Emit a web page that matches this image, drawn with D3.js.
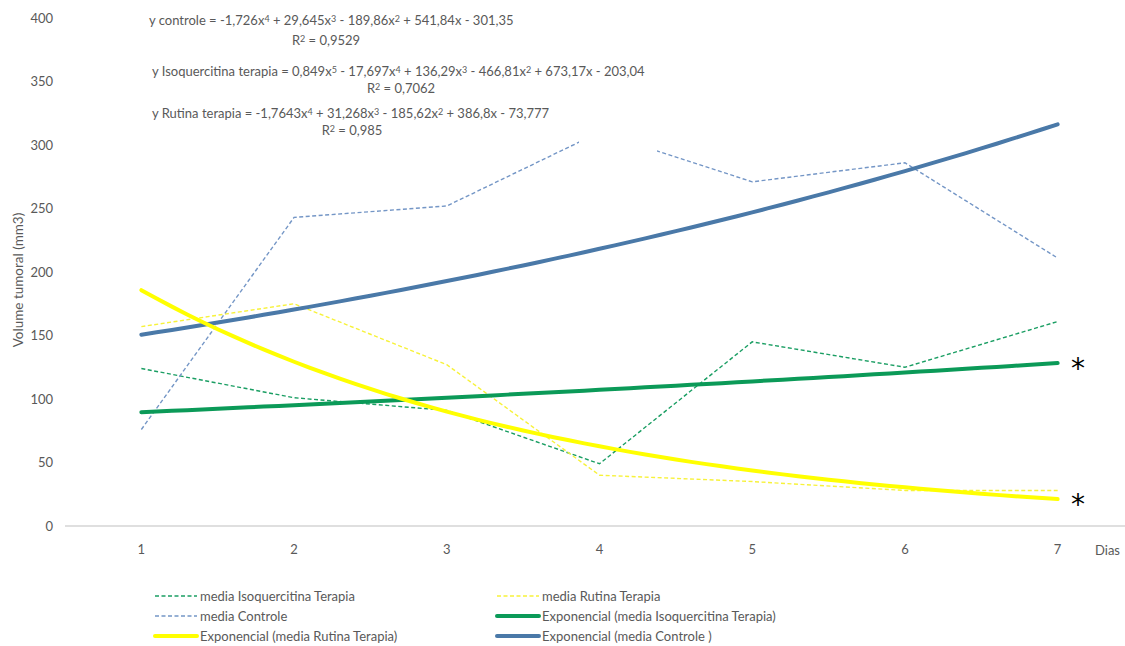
<!DOCTYPE html>
<html>
<head>
<meta charset="utf-8">
<script src="https://cdn.jsdelivr.net/npm/d3@7/dist/d3.min.js"></script>
<style>
  html, body { margin: 0; padding: 0; background: #fff; }
  svg { display: block; font-family: Lato, "Open Sans", sans-serif; }
</style>
</head>
<body>
<svg id="chart" width="1125" height="646"></svg>
<script>
// Tumour volume (mm3) per day, group means
const days = [1, 2, 3, 4, 5, 6, 7];
const mediaIsoquercitina = [124, 101, 91, 49, 145, 125, 161];
const mediaRutina = [157, 175, 127, 40, 35, 28, 28];
const mediaControle = [76, 243, 252, 310, 271, 286, 211];
const yTicks = [0, 50, 100, 150, 200, 250, 300, 350, 400];

// Polynomial trendline labels; "^n" marks a superscript exponent
const equations = [
  { text: "y controle = -1,726x^4 + 29,645x^3 - 189,86x^2 + 541,84x - 301,35", r2: "R^2 = 0,9529" },
  { text: "y Isoquercitina terapia = 0,849x^5 - 17,697x^4 + 136,29x^3 - 466,81x^2 + 673,17x - 203,04", r2: "R^2 = 0,7062" },
  { text: "y Rutina terapia = -1,7643x^4 + 31,268x^3 - 185,62x^2 + 386,8x - 73,777", r2: "R^2 = 0,985" }
];

const colors = {
  isoDash: "#1a9e63", rutDash: "#f7f23a", ctrlDash: "#7496c6",
  isoExp: "#0b9a58", rutExp: "#ffff00", ctrlExp: "#4a79a8"
};

const svg = d3.select("#chart");
const textColor = "#595959";

const x = d3.scaleBand().domain(days).range([65, 1134]);
const xc = d => x(d) + x.bandwidth() / 2;
const xLin = d3.scaleLinear().domain([1, 7]).range([xc(1), xc(7)]);
const y = d3.scaleLinear().domain([0, 400]).range([526, 18]);

// Y tick labels (no gridlines)
svg.append("g").selectAll("text").data(yTicks).join("text")
  .attr("x", 53).attr("y", d => y(d)).attr("dy", "0.35em")
  .attr("text-anchor", "end").attr("fill", textColor).attr("font-size", 13)
  .text(d => d);

// Category axis line
svg.append("line").attr("x1", 65).attr("x2", 1134).attr("y1", y(0)).attr("y2", y(0))
  .attr("stroke", "#bfbfbf").attr("stroke-width", 1);

svg.append("g").selectAll("text").data(days).join("text")
  .attr("x", d => xc(d)).attr("y", 549).attr("dy", "0.35em")
  .attr("text-anchor", "middle").attr("fill", textColor).attr("font-size", 13)
  .text(d => d);

svg.append("text").attr("x", 1095).attr("y", 550).attr("dy", "0.35em")
  .attr("fill", textColor).attr("font-size", 13).text("Dias");

svg.append("text")
  .attr("transform", "translate(18,280) rotate(-90)")
  .attr("text-anchor", "middle").attr("dy", "0.35em")
  .attr("fill", textColor).attr("font-size", 13.5).text("Volume tumoral (mm3)");

// Dashed series of group means
const line = d3.line().x((d, i) => xc(days[i])).y(d => y(d));
function dashed(data, color) {
  svg.append("path").datum(data).attr("d", line)
    .attr("fill", "none").attr("stroke", color).attr("stroke-width", 1.4)
    .attr("stroke-dasharray", "4,2.5");
}
dashed(mediaIsoquercitina, colors.isoDash);
dashed(mediaRutina, colors.rutDash);
dashed(mediaControle, colors.ctrlDash);

// Exponential trend: least squares on ln(y)
function expFit(vals) {
  const n = vals.length;
  const lx = days, ly = vals.map(Math.log);
  const mx = d3.mean(lx), my = d3.mean(ly);
  let sxy = 0, sxx = 0;
  for (let i = 0; i < n; i++) { sxy += (lx[i] - mx) * (ly[i] - my); sxx += (lx[i] - mx) ** 2; }
  const b = sxy / sxx, a = Math.exp(my - b * mx);
  return t => a * Math.exp(b * t);
}
const samples = d3.range(0, 61).map(i => 1 + i * 0.1);
const curve = d3.line().x(t => xLin(t));
function trend(vals, color) {
  const f = expFit(vals);
  svg.append("path").datum(samples)
    .attr("d", curve.y(t => y(f(t))))
    .attr("fill", "none").attr("stroke", color).attr("stroke-width", 4)
    .attr("stroke-linecap", "round");
}
trend(mediaControle, colors.ctrlExp);
trend(mediaIsoquercitina, colors.isoExp);
trend(mediaRutina, colors.rutExp);

// Trendline label boxes (white fill)
svg.append("rect").attr("x", 579).attr("y", 96).attr("width", 78).attr("height", 60).attr("fill", "#fff");

// Writes text with ^n exponents as raised tspans
function richText(sel, str) {
  const parts = str.split(/\^(\d)/);
  parts.forEach((p, i) => {
    if (i % 2 === 0) {
      if (p) sel.append("tspan").text(p);
    } else {
      sel.append("tspan").attr("font-size", 9).attr("baseline-shift", "38%").text(p);
    }
  });
}

const eqG = svg.append("g").attr("fill", textColor).attr("font-size", 13);
const eqPos = [
  { x: 149, y: 20, rx: 326, ry: 40 },
  { x: 152, y: 71, rx: 401, ry: 88 },
  { x: 152, y: 113, rx: 352, ry: 130 }
];
equations.forEach((e, i) => {
  richText(eqG.append("text").attr("x", eqPos[i].x).attr("y", eqPos[i].y).attr("dy", "0.35em"), e.text);
  richText(eqG.append("text").attr("x", eqPos[i].rx).attr("y", eqPos[i].ry).attr("dy", "0.35em")
    .attr("text-anchor", "middle"), e.r2);
});

// Significance markers
[mediaIsoquercitina, mediaRutina].forEach(vals => {
  const f = expFit(vals);
  svg.append("text").attr("x", 1078).attr("y", y(f(7)) + 15)
    .attr("text-anchor", "middle").attr("font-size", 28).attr("fill", "#000")
    .attr("font-family", "'DejaVu Sans', sans-serif").text("*");
});

// Legend
const legend = [
  { label: "media Isoquercitina Terapia", color: colors.isoDash, dash: true, col: 0, row: 0 },
  { label: "media Rutina Terapia", color: colors.rutDash, dash: true, col: 1, row: 0 },
  { label: "media Controle", color: colors.ctrlDash, dash: true, col: 0, row: 1 },
  { label: "Exponencial (media Isoquercitina Terapia)", color: colors.isoExp, dash: false, col: 1, row: 1 },
  { label: "Exponencial (media Rutina Terapia)", color: colors.rutExp, dash: false, col: 0, row: 2 },
  { label: "Exponencial (media Controle )", color: colors.ctrlExp, dash: false, col: 1, row: 2 }
];
const colX = [155, 497];
const rowY = [596, 616, 636];
const lg = svg.append("g");
legend.forEach(d => {
  const x0 = colX[d.col], y0 = rowY[d.row];
  lg.append("line").attr("x1", x0).attr("x2", x0 + 42).attr("y1", y0).attr("y2", y0)
    .attr("stroke", d.color).attr("stroke-width", d.dash ? 1.4 : 4)
    .attr("stroke-dasharray", d.dash ? "4,2.5" : null)
    .attr("stroke-linecap", d.dash ? "butt" : "round");
  lg.append("text").attr("x", x0 + 45).attr("y", y0).attr("dy", "0.35em")
    .attr("fill", textColor).attr("font-size", 13).text(d.label);
});
</script>
</body>
</html>
